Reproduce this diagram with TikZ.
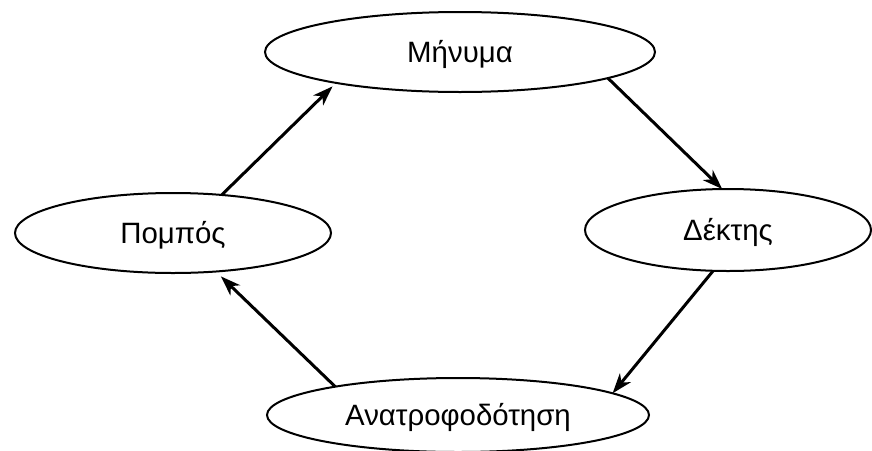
\documentclass[tikz,border=0pt]{standalone}
\usepackage{fontspec}
\setmainfont{Liberation Sans}
\usetikzlibrary{shapes.geometric,arrows.meta}
\begin{document}
\begin{tikzpicture}[x=0.5pt,y=-0.5pt,
  bubble/.style={draw,ellipse,line width=1pt,inner sep=0pt,outer sep=0pt,
    font=\fontsize{14.7pt}{17pt}\selectfont,text height=10.5pt,text depth=0pt},
  flow/.style={line width=1.5pt,-{Stealth[length=10pt,width=7pt,inset=3pt]}}]
\useasboundingbox (0,0) rectangle (872,450);
% the four stages of the communication cycle
\node[bubble,minimum width=195pt,minimum height=40pt]   (msg) at (460,52)  {Μήνυμα};
\node[bubble,minimum width=158pt,minimum height=40pt]   (snd) at (173,233) {Πομπός};
\node[bubble,minimum width=143pt,minimum height=41pt]   (rcv) at (728,230) {Δέκτης};
\node[bubble,minimum width=191pt,minimum height=37pt]   (fb)  at (458,415) {Ανατροφοδότηση};
% arrows around the cycle
\draw[flow,shorten >=2.5pt] (snd.38) -- (msg.194.5);
\draw[flow] (msg.350) -- (rcv.98);
\draw[flow] (rcv.250.3) -- (fb.8.7);
\draw[flow,shorten >=3.5pt] (fb.167.2) -- (snd.318.2);
\end{tikzpicture}
\end{document}
